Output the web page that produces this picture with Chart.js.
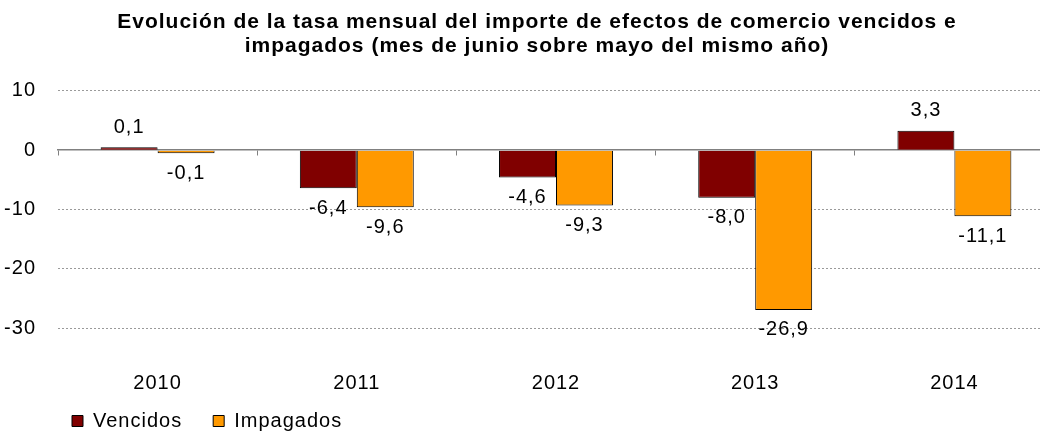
<!DOCTYPE html>
<html>
<head>
<meta charset="utf-8">
<script src="https://cdn.jsdelivr.net/npm/chart.js@4"></script>
<style>
  html, body { margin: 0; padding: 0; background: #fff; overflow: hidden; }
  #wrap { width: 1074px; height: 432px; }
</style>
</head>
<body>
<div id="wrap"><canvas id="tasaChart" width="1074" height="432"></canvas></div>
<script>
// datos
const years = ["2010", "2011", "2012", "2013", "2014"];
const vencidos = [0.1, -6.4, -4.6, -8.0, 3.3];
const impagados = [-0.1, -9.6, -9.3, -26.9, -11.1];
const yTicks = [10, 0, -10, -20, -30];

const fontFamily = "'Liberation Sans', Arial, sans-serif";

// el original tiene el texto algo mas espaciado
const spacing = {
    id: 'spacing',
    beforeLayout(chart) { chart.ctx.letterSpacing = '1px'; },
    beforeDraw(chart) { chart.ctx.letterSpacing = '1px'; }
};

// leyenda: mas separacion entre elementos sin cambiar su altura
const legendGap = {
    id: 'legendGap',
    afterLayout(chart) {
        const lg = chart.legend;
        const extra = 28;
        lg.options.labels.padding += extra;
        lg.top -= extra;
        lg.left = 72 - lg.options.labels.padding;
    }
};

// etiquetas de valor (coma decimal) en el extremo de cada barra
const valueLabels = {
    id: 'valueLabels',
    afterDatasetsDraw(chart) {
        const ctx = chart.ctx;
        ctx.save();
        ctx.font = "20px " + fontFamily;
        ctx.fillStyle = "#000";
        ctx.textAlign = "center";
        ctx.textBaseline = "middle";
        chart.data.datasets.forEach((ds, i) => {
            chart.getDatasetMeta(i).data.forEach((bar, j) => {
                let v = ds.data[j];
                let txt = v.toFixed(1).replace('.', ',');
                let y = v >= 0 ? bar.y - 20 : bar.y + 20;
                ctx.fillText(txt, bar.x, y);
            });
        });
        ctx.restore();
    }
};

var ctxB = document.getElementById("tasaChart").getContext('2d');

var myBarChart = new Chart(ctxB, {
    type: 'bar',
    plugins: [spacing, legendGap, valueLabels],
    data: {
        labels: years,
        datasets: [{
            label: "Vencidos",
            data: vencidos,
            backgroundColor: "#800000",
            borderColor: "#000",
            borderWidth: 1,
            minBarLength: 3
        }, {
            label: "Impagados",
            data: impagados,
            backgroundColor: "#FF9900",
            borderColor: "#000",
            borderWidth: 1,
            minBarLength: 3
        }]
    },
    options: {
        responsive: false,
        animation: false,
        layout: { padding: { left: 0, right: 0, top: 0, bottom: -9 } },
        datasets: {
            bar: { categoryPercentage: 0.572, barPercentage: 1.0 }
        },
        scales: {
            x: {
                position: { y: 0 },
                offset: true,
                ticks: { display: false },
                grid: {
                    offset: true,
                    drawOnChartArea: false,
                    drawTicks: true,
                    tickLength: 5,
                    color: "#808080",
                    lineWidth: 1
                },
                border: { display: true, color: "#808080", width: 1.5 }
            },
            x2: {
                type: 'category',
                position: 'bottom',
                offset: true,
                grid: { display: false, drawTicks: false },
                border: { display: false },
                ticks: {
                    color: "#000",
                    padding: 13,
                    font: { family: fontFamily, size: 20 }
                }
            },
            y: {
                min: -35,
                max: 10,
                afterBuildTicks: (scale) => {
                    scale.ticks = yTicks.map(v => ({ value: v }));
                },
                afterFit: (scale) => { scale.width = 58; },
                border: { display: false, dash: [2, 2] },
                grid: {
                    drawTicks: false,
                    color: (c) => c.tick && c.tick.value === 0 ? "rgba(0,0,0,0)" : "#9a9a9a",
                    lineWidth: 1
                },
                ticks: {
                    color: "#000",
                    padding: 22,
                    font: { family: fontFamily, size: 20 }
                }
            },
            // margen derecho vacio (el titulo se centra en todo el ancho)
            yRight: {
                type: 'linear',
                position: 'right',
                afterFit: (scale) => { scale.width = 20; },
                grid: { display: false },
                border: { display: false },
                ticks: { display: false }
            }
        },
        plugins: {
            title: {
                display: true,
                text: ["Evolución de la tasa mensual del importe de efectos de comercio vencidos e",
                       "impagados (mes de junio sobre mayo del mismo año)"],
                color: "#000",
                font: { family: fontFamily, size: 21, weight: 'bold', lineHeight: 1.14 },
                padding: { top: 10, bottom: 33 }
            },
            legend: {
                position: 'bottom',
                align: 'start',
                fullSize: false,
                labels: {
                    color: "#000",
                    boxWidth: 11,
                    boxHeight: 11,
                    padding: 3,
                    font: { family: fontFamily, size: 20 },
                    generateLabels: (chart) => chart.data.datasets.map((ds, i) => ({
                        text: ds.label,
                        fillStyle: ds.backgroundColor,
                        strokeStyle: "#000",
                        lineWidth: 1,
                        datasetIndex: i
                    }))
                }
            },
            tooltip: { enabled: false }
        }
    }
});
</script>
</body>
</html>
